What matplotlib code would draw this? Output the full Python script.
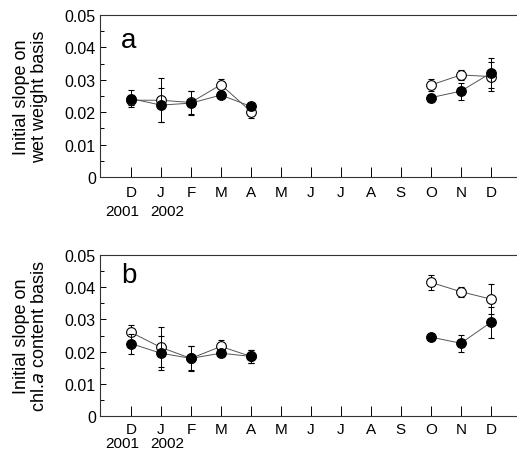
import numpy as np
import matplotlib.pyplot as plt
from matplotlib.ticker import MultipleLocator
import matplotlib.transforms as mtransforms

plt.rcParams['font.family'] = ['Liberation Sans', 'DejaVu Sans']

months = ['D', 'J', 'F', 'M', 'A', 'M', 'J', 'J', 'A', 'S', 'O', 'N', 'D']
years = ['2001', '2002']
nan = np.nan

# panel a: wet weight basis
a_open = [0.0237, 0.0237, 0.0230, 0.0285, 0.0202, nan, nan, nan, nan, nan, 0.0284, 0.0315, 0.0310]
a_open_err = [0.0015, 0.0068, 0.0037, 0.0018, 0.0020, nan, nan, nan, nan, nan, 0.0018, 0.0015, 0.0045]
a_fill = [0.0242, 0.0222, 0.0228, 0.0253, 0.0218, nan, nan, nan, nan, nan, 0.0245, 0.0265, 0.0321]
a_fill_err = [0.0027, 0.0052, 0.0038, 0.0010, 0.0010, nan, nan, nan, nan, nan, 0.0012, 0.0026, 0.0047]

# panel b: chl.a content basis
b_open = [0.0260, 0.0213, 0.0179, 0.0216, 0.0185, nan, nan, nan, nan, nan, 0.0415, 0.0386, 0.0363]
b_open_err = [0.0023, 0.0062, 0.0039, 0.0020, 0.0020, nan, nan, nan, nan, nan, 0.0024, 0.0016, 0.0047]
b_fill = [0.0225, 0.0195, 0.0179, 0.0195, 0.0185, nan, nan, nan, nan, nan, 0.0245, 0.0226, 0.0291]
b_fill_err = [0.0031, 0.0053, 0.0037, 0.0010, 0.0021, nan, nan, nan, nan, nan, 0.0010, 0.0027, 0.0049]

x = np.arange(len(months))

fig = plt.figure(figsize=(5.17, 4.56), dpi=100)
ax1 = fig.add_axes([0.1934, 0.6096, 0.8066, 0.3553])
ax2 = fig.add_axes([0.1934, 0.0855, 0.8066, 0.3531])


def draw(ax, yo, eo, yf, ef, letter, ylabel, letter_y, year_y, month_pad):
    ax.errorbar(x, yo, yerr=eo, fmt='-o', color='#555555', lw=0.7, ms=7,
                mfc='white', mec='black', mew=0.8, ecolor='black', elinewidth=0.7,
                capsize=2.5, capthick=0.7, zorder=3)
    ax.errorbar(x, yf, yerr=ef, fmt='-o', color='#555555', lw=0.7, ms=7,
                mfc='black', mec='black', mew=0.8, ecolor='black', elinewidth=0.7,
                capsize=2.5, capthick=0.7, zorder=4)
    ax.set_xlim(-1.03, 12.87)
    ax.set_ylim(0, 0.05)
    ax.spines['right'].set_visible(False)
    for s in ['left', 'top', 'bottom']:
        ax.spines[s].set_linewidth(0.8)
        ax.spines[s].set_color('#333333')
    ax.yaxis.set_minor_locator(MultipleLocator(0.005))
    ax.set_yticks([0, 0.01, 0.02, 0.03, 0.04, 0.05])
    ax.set_yticklabels(['0', '0.01', '0.02', '0.03', '0.04', '0.05'])
    ax.tick_params(axis='y', which='major', direction='in', length=4, width=0.7, labelsize=11.5, pad=3)
    ax.tick_params(axis='y', which='minor', direction='in', length=3, width=0.7)
    ax.set_xticks(x)
    ax.set_xticklabels(months)
    ax.tick_params(axis='x', direction='in', length=7, width=0.7, labelsize=11, pad=month_pad)
    ax.tick_params(top=False, right=False)
    ax.set_ylabel(ylabel, fontsize=13, linespacing=1.1, labelpad=12)
    ax.text(0.05, letter_y, letter, transform=ax.transAxes, fontsize=20)
    tr = mtransforms.blended_transform_factory(ax.transData, ax.transAxes)
    ax.text(x[0] - 0.3, year_y, years[0], transform=tr, ha='center', va='baseline', fontsize=11)
    ax.text(x[1] + 0.2, year_y, years[1], transform=tr, ha='center', va='baseline', fontsize=11)


draw(ax1, a_open, a_open_err, a_fill, a_fill_err, 'a', 'Initial slope on\nwet weight basis',
     0.80, -0.235, 6)
draw(ax2, b_open, b_open_err, b_fill, b_fill_err, 'b', 'Initial slope on\nchl.$\\it{a}$ content basis',
     0.83, -0.193, 4)

fig.savefig('out.png', dpi=100)
